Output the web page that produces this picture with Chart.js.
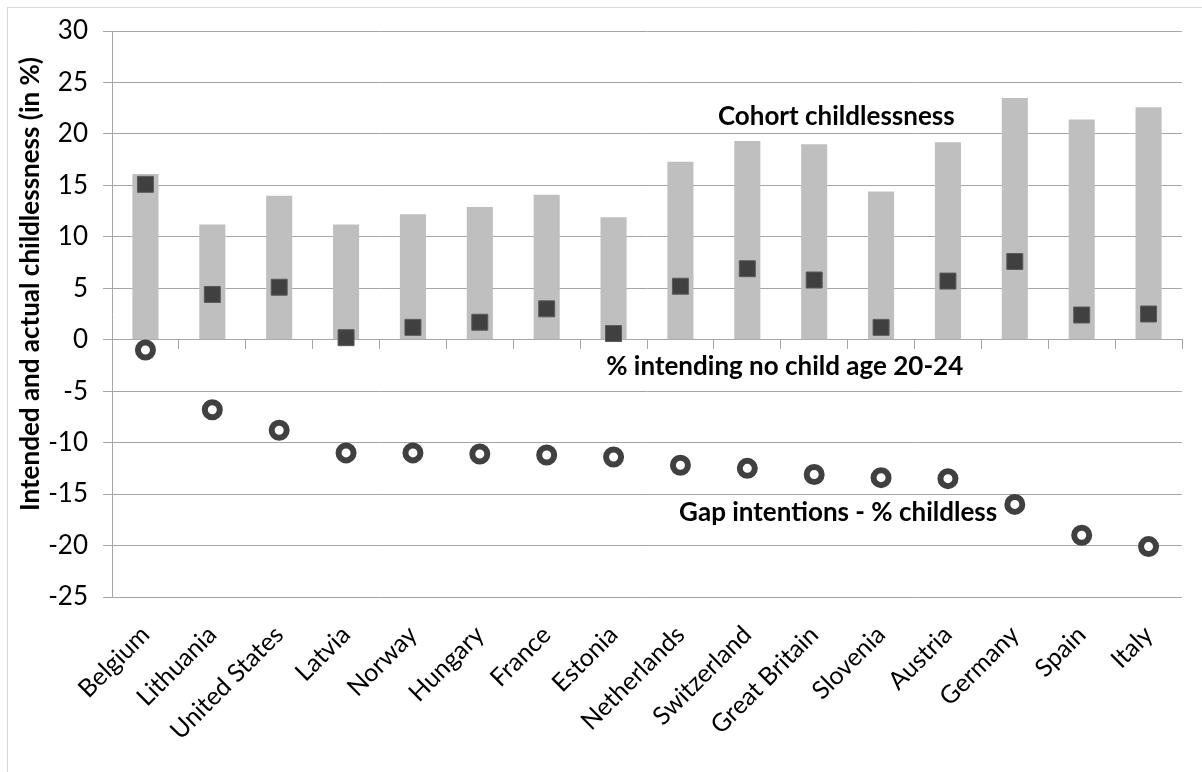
<!DOCTYPE html>
<html>
<head>
<meta charset="utf-8">
<script src="https://cdn.jsdelivr.net/npm/chart.js@4.4.1/dist/chart.umd.min.js"></script>
<style>
    body { margin: 0; background: #fff; }
    #wrap { width: 1202px; height: 772px; position: relative; }
</style>
</head>
<body>
<div id="wrap"><canvas id="childChart"></canvas></div>
<script>
// data
const categories = ['Belgium', 'Lithuania', 'United States', 'Latvia', 'Norway', 'Hungary', 'France', 'Estonia',
    'Netherlands', 'Switzerland', 'Great Britain', 'Slovenia', 'Austria', 'Germany', 'Spain', 'Italy'];
const cohortChildless = [16.1, 11.2, 14.0, 11.2, 12.2, 12.9, 14.1, 11.9, 17.3, 19.3, 19.0, 14.4, 19.2, 23.5, 21.4, 22.6];
const intendNoChild = [15.1, 4.4, 5.1, 0.2, 1.2, 1.7, 3.0, 0.6, 5.2, 6.9, 5.8, 1.2, 5.7, 7.6, 2.4, 2.5];
const gapIntentions = [-1.0, -6.8, -8.8, -11.0, -11.0, -11.1, -11.2, -11.4, -12.2, -12.5, -13.1, -13.4, -13.5, -16.0, -19.0, -20.1];
const yMin = -25;
const yMax = 30;
const yStep = 5;

const gridColor = '#a6a6a6';
const fontFamily = 'Lato, "Open Sans", sans-serif';

// text labels placed on the plot: [text, category index, y value]
const annotations = [
    ['Cohort childlessness', 8.56, 21.7],
    ['% intending no child age 20-24', 6.89, -2.6],
    ['Gap intentions - % childless', 7.98, -16.8]
];

Chart.defaults.font.family = fontFamily;
Chart.defaults.color = '#000';

// white background + thin frame, like the spreadsheet export
const framePlugin = {
    id: 'frame',
    beforeDraw(chart) {
        const ctx = chart.ctx;
        ctx.save();
        ctx.fillStyle = '#fff';
        ctx.fillRect(0, 0, chart.width, chart.height);
        ctx.strokeStyle = '#d9d9d9';
        ctx.lineWidth = 1;
        ctx.strokeRect(7.5, 7.5, chart.width + 20, chart.height + 20);
        ctx.restore();
    }
};

// y title and the in-plot labels
const textPlugin = {
    id: 'texts',
    afterDraw(chart) {
        const ctx = chart.ctx;
        const xs = chart.scales.x;
        const ys = chart.scales.y;
        ctx.save();
        ctx.fillStyle = '#000';
        ctx.font = 'bold 26px ' + fontFamily;
        ctx.textBaseline = 'middle';
        ctx.textAlign = 'left';
        annotations.forEach(([text, idx, val]) => {
            ctx.fillText(text, xs.getPixelForValue(idx), ys.getPixelForValue(val));
        });

        ctx.translate(31, 284);
        ctx.rotate(-Math.PI / 2);
        ctx.textAlign = 'center';
        ctx.fillText('Intended and actual childlessness (in %)', 0, 0);
        ctx.restore();
    }
};

const ctx = document.getElementById('childChart').getContext('2d');
new Chart(ctx, {
    type: 'bar',
    data: {
        labels: categories,
        datasets: [
            {
                type: 'line',
                label: 'Gap intentions - % childless',
                data: gapIntentions,
                showLine: false,
                pointStyle: 'circle',
                pointRadius: 7.5,
                pointHoverRadius: 7.5,
                pointBorderWidth: 6,
                pointBackgroundColor: '#fff',
                pointBorderColor: '#404040',
                order: 1
            },
            {
                type: 'line',
                label: '% intending no child age 20-24',
                data: intendNoChild,
                showLine: false,
                pointStyle: 'rect',
                pointRadius: 11.3,
                pointHoverRadius: 11.3,
                pointBorderWidth: 1,
                pointBackgroundColor: '#404040',
                pointBorderColor: '#5a5a5a',
                order: 2
            },
            {
                label: 'Cohort childlessness',
                data: cohortChildless,
                backgroundColor: '#bfbfbf',
                barPercentage: 0.39,
                categoryPercentage: 1,
                order: 3
            }
        ]
    },
    options: {
        responsive: true,
        maintainAspectRatio: false,
        animation: false,
        layout: { padding: { left: 0, top: 31, right: 20, bottom: 0 } },
        plugins: {
            legend: { display: false },
            tooltip: { enabled: false }
        },
        scales: {
            x: {
                type: 'category',
                position: 'bottom',
                offset: true,
                grid: { display: false },
                border: { display: false },
                ticks: {
                    autoSkip: false,
                    maxRotation: 45,
                    minRotation: 45,
                    padding: 15,
                    font: { size: 25 },
                    color: '#000'
                },
                afterFit(scale) { scale.height = 175; }
            },
            x2: {
                type: 'category',
                position: { y: 0 },
                offset: true,
                grid: {
                    offset: true,
                    drawOnChartArea: false,
                    tickLength: 9,
                    color: gridColor
                },
                border: { color: gridColor },
                ticks: { display: false }
            },
            y: {
                min: yMin,
                max: yMax,
                ticks: {
                    stepSize: yStep,
                    padding: 15,
                    font: { size: 26 },
                    color: '#000'
                },
                grid: { color: gridColor, tickLength: 9 },
                border: { color: gridColor },
                afterFit(scale) { scale.width = 112; }
            }
        }
    },
    plugins: [framePlugin, textPlugin]
});
</script>
</body>
</html>
